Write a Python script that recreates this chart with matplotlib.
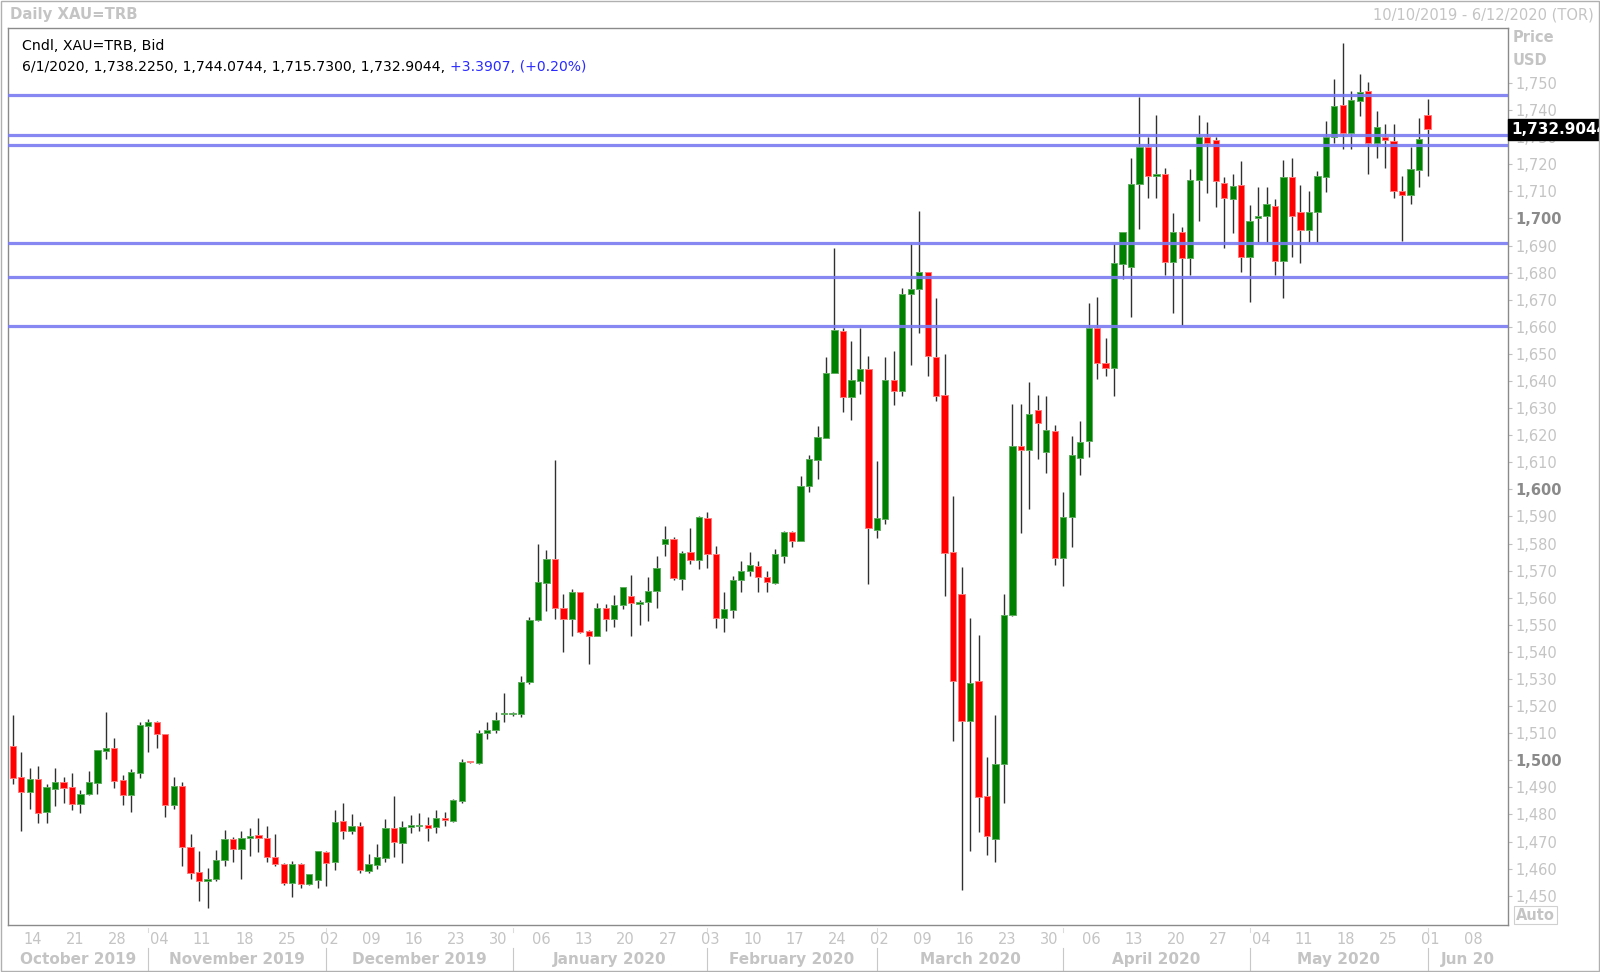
import matplotlib
matplotlib.use("Agg")
import matplotlib.pyplot as plt
import pandas as pd

# trading days shown on the chart (weekdays 10 Oct 2019 - 1 Jun 2020)
dates = pd.bdate_range("2019-10-10", "2020-06-01")

opens = [1505.2, 1493.9, 1488.4, 1493.0, 1481.0, 1489.3, 1491.8, 1490.0, 1483.8, 1487.4,
         1491.7, 1503.5, 1504.4, 1492.7, 1487.1, 1495.4, 1512.7, 1514.0, 1509.6, 1483.5,
         1490.5, 1468.1, 1458.6, 1455.4, 1456.0, 1463.1, 1470.9, 1467.2, 1471.2, 1472.4,
         1471.2, 1464.4, 1461.8, 1454.8, 1461.8, 1454.4, 1455.8, 1466.0, 1462.3, 1477.7,
         1474.0, 1475.9, 1459.3, 1461.3, 1463.8, 1474.9, 1469.3, 1475.4, 1475.7, 1476.0,
         1475.5, 1478.7, 1477.6, 1485.1, 1499.4, 1499.1, 1510.0, 1511.0, 1517.0, 1517.0,
         1517.0, 1529.0, 1551.7, 1565.6, 1574.3, 1556.3, 1552.0, 1562.0, 1547.7, 1546.0,
         1556.1, 1552.0, 1557.2, 1560.6, 1557.7, 1558.3, 1562.6, 1580.0, 1581.7, 1566.8,
         1576.8, 1574.0, 1589.3, 1576.2, 1552.4, 1555.5, 1566.6, 1570.0, 1571.8, 1567.5,
         1565.3, 1575.5, 1584.4, 1581.0, 1601.3, 1610.8, 1619.1, 1642.8, 1658.6, 1634.2,
         1640.1, 1644.5, 1584.9, 1588.9, 1640.3, 1636.2, 1672.0, 1673.8, 1680.1, 1648.8,
         1634.8, 1576.8, 1561.4, 1514.6, 1529.2, 1486.8, 1470.8, 1498.6, 1553.6, 1616.0,
         1614.4, 1629.2, 1613.7, 1621.5, 1574.8, 1589.9, 1611.4, 1618.0, 1659.4, 1646.7,
         1644.9, 1683.2, 1682.2, 1712.7, 1726.2, 1715.8, 1716.4, 1684.0, 1694.9, 1685.5,
         1714.2, 1730.2, 1729.0, 1713.2, 1707.1, 1712.4, 1685.9, 1700.1, 1701.0, 1704.7,
         1684.4, 1715.2, 1702.3, 1695.7, 1702.3, 1715.4, 1730.0, 1741.8, 1731.4, 1743.4,
         1747.1, 1727.7, 1729.9, 1728.5, 1710.2, 1708.8, 1717.8, 1738.225]
highs = [1516.7, 1503.1, 1497.0, 1497.8, 1491.4, 1497.3, 1493.9, 1495.4, 1489.0, 1496.0,
         1503.7, 1517.9, 1508.3, 1494.5, 1496.7, 1514.0, 1515.4, 1514.5, 1509.6, 1493.9,
         1492.1, 1472.8, 1466.5, 1460.1, 1466.9, 1474.2, 1471.8, 1473.9, 1475.1, 1478.8,
         1475.7, 1472.8, 1462.2, 1462.8, 1462.2, 1458.0, 1466.5, 1466.5, 1481.7, 1484.1,
         1480.2, 1477.1, 1465.3, 1469.0, 1478.5, 1486.8, 1477.7, 1479.8, 1480.7, 1479.2,
         1481.7, 1480.9, 1485.7, 1500.5, 1499.5, 1511.0, 1514.0, 1518.0, 1525.0, 1518.0,
         1531.1, 1553.0, 1580.0, 1577.6, 1610.8, 1561.2, 1563.1, 1562.0, 1548.0, 1558.1,
         1557.7, 1561.0, 1564.0, 1568.4, 1559.1, 1567.7, 1575.4, 1586.6, 1582.5, 1577.4,
         1585.6, 1590.2, 1591.5, 1579.2, 1562.0, 1568.0, 1573.6, 1576.8, 1573.6, 1569.9,
         1578.0, 1584.6, 1584.6, 1605.0, 1612.7, 1623.5, 1648.7, 1689.0, 1659.5, 1654.7,
         1659.5, 1649.1, 1610.5, 1648.7, 1650.9, 1674.5, 1690.4, 1702.6, 1680.1, 1670.7,
         1650.1, 1597.4, 1571.2, 1552.7, 1546.2, 1501.1, 1516.7, 1561.4, 1631.5, 1631.5,
         1639.7, 1634.8, 1634.4, 1623.7, 1598.9, 1619.7, 1625.3, 1668.7, 1671.1, 1655.7,
         1690.6, 1694.9, 1722.2, 1745.0, 1730.2, 1738.2, 1718.5, 1701.9, 1697.0, 1718.1,
         1738.2, 1735.7, 1730.0, 1715.2, 1716.3, 1721.2, 1705.0, 1711.5, 1711.5, 1707.1,
         1721.6, 1722.2, 1712.4, 1710.3, 1717.7, 1736.0, 1751.4, 1764.6, 1747.0, 1753.5,
         1750.2, 1739.6, 1735.0, 1735.0, 1715.6, 1726.2, 1736.9, 1744.0744]
lows = [1491.2, 1474.0, 1482.2, 1477.0, 1476.7, 1483.1, 1484.4, 1481.6, 1480.6, 1487.1,
        1487.7, 1500.3, 1489.6, 1483.4, 1481.0, 1493.3, 1503.1, 1504.4, 1479.2, 1482.2,
        1461.0, 1456.0, 1448.0, 1445.6, 1455.5, 1461.1, 1462.3, 1456.0, 1464.6, 1466.0,
        1462.3, 1461.1, 1453.9, 1449.6, 1452.7, 1453.9, 1453.0, 1453.6, 1459.5, 1471.1,
        1472.8, 1458.5, 1458.5, 1459.9, 1462.3, 1464.4, 1462.0, 1473.0, 1474.0, 1470.2,
        1473.0, 1475.9, 1477.1, 1484.4, 1499.1, 1498.5, 1508.0, 1510.0, 1514.0, 1516.5,
        1516.0, 1528.0, 1551.5, 1555.1, 1552.0, 1540.1, 1545.8, 1546.8, 1535.7, 1546.0,
        1547.8, 1549.3, 1555.8, 1546.0, 1549.9, 1551.5, 1556.3, 1575.5, 1566.6, 1562.9,
        1572.3, 1570.6, 1571.1, 1548.7, 1547.2, 1552.4, 1562.0, 1568.0, 1562.0, 1562.0,
        1565.1, 1572.7, 1578.9, 1581.0, 1599.2, 1603.7, 1618.8, 1642.8, 1628.5, 1625.5,
        1635.2, 1565.0, 1582.1, 1587.2, 1631.3, 1634.5, 1646.0, 1657.7, 1641.7, 1632.8,
        1560.8, 1507.3, 1452.1, 1466.6, 1473.4, 1465.0, 1462.5, 1484.3, 1553.2, 1584.0,
        1592.6, 1611.2, 1605.9, 1572.1, 1564.3, 1578.6, 1605.3, 1612.0, 1640.6, 1641.8,
        1634.4, 1677.5, 1663.7, 1696.0, 1707.4, 1707.4, 1679.1, 1665.2, 1660.7, 1679.1,
        1699.2, 1709.3, 1704.1, 1689.0, 1694.5, 1680.4, 1669.0, 1691.4, 1691.4, 1679.1,
        1670.5, 1685.7, 1683.4, 1691.4, 1691.4, 1709.9, 1727.7, 1725.8, 1725.6, 1737.8,
        1716.3, 1722.4, 1718.8, 1707.4, 1691.7, 1705.3, 1711.7, 1715.73]
closes = [1493.3, 1488.4, 1493.0, 1480.6, 1490.0, 1491.8, 1489.7, 1483.8, 1487.5, 1491.8,
          1503.7, 1504.4, 1492.3, 1487.1, 1495.7, 1513.0, 1514.2, 1509.6, 1483.5, 1490.5,
          1467.9, 1458.5, 1455.4, 1456.3, 1463.3, 1470.9, 1467.2, 1471.2, 1472.2, 1471.2,
          1464.2, 1461.8, 1454.8, 1461.6, 1454.4, 1458.0, 1466.5, 1462.0, 1477.3, 1474.0,
          1475.9, 1459.5, 1461.6, 1464.2, 1474.9, 1469.7, 1475.5, 1475.7, 1475.9, 1475.0,
          1478.6, 1477.8, 1485.3, 1499.4, 1499.2, 1510.0, 1511.0, 1515.0, 1517.2, 1517.1,
          1529.0, 1551.7, 1565.9, 1574.3, 1556.3, 1552.0, 1562.0, 1547.4, 1546.0, 1556.1,
          1552.0, 1557.2, 1564.0, 1557.9, 1558.5, 1562.6, 1570.8, 1581.6, 1567.2, 1576.4,
          1574.0, 1589.7, 1576.2, 1552.4, 1555.7, 1566.6, 1570.0, 1572.1, 1567.5, 1565.7,
          1576.0, 1584.1, 1581.0, 1601.3, 1611.1, 1619.2, 1643.1, 1658.8, 1634.2, 1640.5,
          1644.5, 1585.6, 1589.3, 1640.3, 1636.2, 1672.0, 1674.1, 1680.1, 1649.1, 1634.5,
          1576.5, 1529.1, 1514.6, 1528.7, 1486.6, 1472.0, 1498.6, 1553.6, 1616.0, 1614.4,
          1627.8, 1624.4, 1621.9, 1574.8, 1589.9, 1612.7, 1617.6, 1659.4, 1646.5, 1644.9,
          1683.4, 1694.9, 1712.7, 1726.2, 1715.8, 1716.4, 1684.0, 1694.9, 1685.5, 1714.2,
          1730.2, 1727.7, 1714.0, 1707.4, 1712.0, 1685.9, 1699.1, 1701.0, 1705.2, 1684.4,
          1715.2, 1701.0, 1695.7, 1702.3, 1715.7, 1730.0, 1741.6, 1731.4, 1743.7, 1746.7,
          1727.7, 1733.8, 1729.1, 1710.1, 1708.8, 1718.1, 1729.5, 1732.9044]

# horizontal support / resistance lines
levels = [1745.6, 1730.9, 1727.1, 1691.0, 1678.5, 1660.2]

price_ticks = list(range(1450, 1751, 10))
month_names = ["October 2019", "November 2019", "December 2019", "January 2020",
               "February 2020", "March 2020", "April 2020", "May 2020", "Jun 20"]

W, H = 1600, 972
fig = plt.figure(figsize=(W / 100, H / 100), dpi=100)
fig.patch.set_facecolor("white")

def fx(px):
    return px / W

def fy(py):
    return 1 - py / H

left, right, top, bottom = 8, 1508, 28, 925
ax = fig.add_axes([fx(left), fy(bottom), fx(right - left), (bottom - top) / H])

n = len(dates)
xs = list(range(n))
ax.set_xlim(-0.555, 176.5)
ax.set_ylim(1439.2, 1770.3)

# wicks
ax.vlines(xs, lows, highs, color="#303030", lw=1.0, zorder=2)
# bodies
bw = 0.74
for i in xs:
    o, c = opens[i], closes[i]
    up = c >= o
    col = "#008000" if up else "#ff0000"
    edge = "#5fae5f" if up else "#ff7a7a"
    lo = min(o, c)
    h = max(abs(c - o), 0.55)
    ax.bar(i, h, bottom=lo, width=bw, color=col, edgecolor=edge, linewidth=0.7, zorder=3)

for lv in levels:
    ax.axhline(lv, color="#7b7bf2", lw=2.3, alpha=0.9, zorder=4)

for sp in ax.spines.values():
    sp.set_color("#8a8a8a")
    sp.set_linewidth(1.0)

# right price axis
ax.yaxis.tick_right()
ax.set_yticks(price_ticks)
ax.set_yticklabels([f"{p:,}" for p in price_ticks])
ax.tick_params(axis="y", direction="out", length=3, width=0.8, color="#c0c0c0",
               pad=2, labelsize=10.5, labelcolor="#c4c4c4")
for p, lab in zip(price_ticks, ax.get_yticklabels()):
    if p % 100 == 0:
        lab.set_fontweight("bold")
        lab.set_color("#8a8a8a")

# bottom date axis: Mondays
mondays = [i for i, d in enumerate(dates) if d.weekday() == 0]
mon_labels = [dates[i].strftime("%d") for i in mondays]
mondays.append(n + 4)
mon_labels.append("08")
ax.set_xticks([m + 0.35 for m in mondays])
ax.set_xticklabels(mon_labels)
ax.tick_params(axis="x", length=0, pad=5, labelsize=10.5, labelcolor="#c4c4c4")

# month separators and labels
firsts = [0]
for i in range(1, n):
    if dates[i].month != dates[i - 1].month:
        firsts.append(i)
trans = ax.get_xaxis_transform()
edges = [-0.555] + firsts[1:] + [176.5]
for k in range(len(month_names)):
    a, b = edges[k], edges[k + 1]
    ax.text((a + b) / 2, -0.038, month_names[k], transform=trans, ha="center", va="center",
            fontsize=11, fontweight="bold", color="#c4c4c4", clip_on=False)
for f in firsts[1:]:
    ax.plot([f, f], [-0.003, -0.008], transform=trans, color="#dcdcdc", lw=0.8, clip_on=False)
    ax.plot([f, f], [-0.026, -0.05], transform=trans, color="#c8c8c8", lw=0.8, clip_on=False)

# header texts
fig.text(fx(10), fy(15), "Daily XAU=TRB", fontsize=10.7, fontweight="bold", color="#c4c4c4",
         va="center", ha="left")
fig.text(fx(1594), fy(15), "10/10/2019 - 6/12/2020 (TOR)", fontsize=10.5, color="#c4c4c4",
         va="center", ha="right")
fig.text(fx(22), fy(46), "Cndl, XAU=TRB, Bid", fontsize=10.2, color="black", va="center")
t1 = fig.text(fx(22), fy(67), "6/1/2020, 1,738.2250, 1,744.0744, 1,715.7300, 1,732.9044, ",
              fontsize=10.1, color="black", va="center")
fig.canvas.draw()
bb = t1.get_window_extent()
fig.text(bb.x1 / W, fy(67), "+3.3907, (+0.20%)", fontsize=10.1, color="#2a2aff", va="center")

fig.text(fx(1513), fy(38), "Price", fontsize=10.5, fontweight="bold", color="#c4c4c4", va="center")
fig.text(fx(1513), fy(60), "USD", fontsize=10.5, fontweight="bold", color="#c4c4c4", va="center")
fig.text(fx(1516), fy(915), "Auto", fontsize=10.5, fontweight="bold", color="#c4c4c4", va="center",
         bbox=dict(boxstyle="square,pad=0.12", fc="white", ec="#d0d0d0", lw=0.8))

# last price tag
ax.text(1.002, closes[-1], f"{closes[-1]:,.4f}", transform=ax.get_yaxis_transform(),
        ha="left", va="center", fontsize=11, fontweight="bold", color="white", clip_on=False,
        bbox=dict(boxstyle="square,pad=0.2", fc="black", ec="black"), zorder=10)

# outer frame
fig.add_artist(plt.Rectangle((0.0005, 0.001), 0.999, 0.998, transform=fig.transFigure,
                             fill=False, ec="#b0b0b0", lw=1.0))

fig.savefig("out.png", dpi=100, facecolor="white")
